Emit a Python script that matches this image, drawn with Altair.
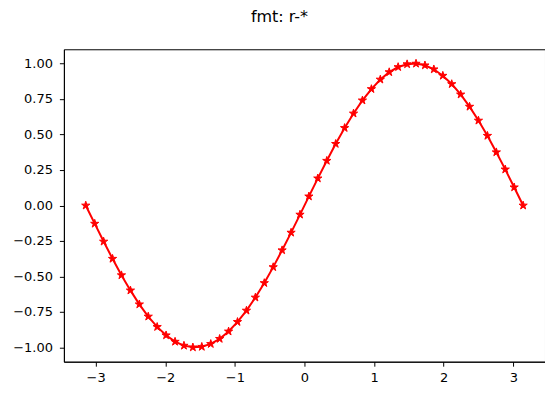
import altair as alt
import pandas as pd

x_vals = [-3.142, -3.013, -2.885, -2.757, -2.629, -2.500, -2.372, -2.244, -2.116, -1.988,
          -1.859, -1.731, -1.603, -1.475, -1.346, -1.218, -1.090, -0.962, -0.833, -0.705,
          -0.577, -0.449, -0.321, -0.192, -0.064, 0.064, 0.192, 0.321, 0.449, 0.577,
          0.705, 0.833, 0.962, 1.090, 1.218, 1.346, 1.475, 1.603, 1.731, 1.859,
          1.988, 2.116, 2.244, 2.372, 2.500, 2.629, 2.757, 2.885, 3.013, 3.142]
y_vals = [0.000, -0.128, -0.254, -0.375, -0.491, -0.598, -0.696, -0.782, -0.855, -0.914,
          -0.959, -0.987, -0.999, -0.995, -0.975, -0.939, -0.887, -0.820, -0.740, -0.648,
          -0.546, -0.434, -0.315, -0.191, -0.064, 0.064, 0.191, 0.315, 0.434, 0.546,
          0.648, 0.740, 0.820, 0.887, 0.939, 0.975, 0.995, 0.999, 0.987, 0.959,
          0.914, 0.855, 0.782, 0.696, 0.598, 0.491, 0.375, 0.254, 0.128, 0.000]
x_ticks = [-3, -2, -1, 0, 1, 2, 3]
y_ticks = [-1.0, -0.75, -0.5, -0.25, 0.0, 0.25, 0.5, 0.75, 1.0]
title_text = ["fmt: r-*"]

df = pd.DataFrame({"x": x_vals, "y": y_vals})
tdf = pd.DataFrame({"t": title_text})

FONT = "DejaVu Sans"
STAR = ("M0,-1L0.225,-0.309L0.951,-0.309L0.363,0.118L0.588,0.809L0,0.382"
        "L-0.588,0.809L-0.363,0.118L-0.951,-0.309L-0.225,-0.309Z")

axis_common = dict(grid=False, domainColor="black", domainWidth=1, tickColor="black",
                   tickWidth=1, tickSize=4.5, labelFont=FONT,
                   labelFontSize=13, labelColor="black", title=None)

x_enc = alt.X("x:Q", scale=alt.Scale(domain=[-3.456, 3.456], nice=False, zero=False),
              axis=alt.Axis(values=x_ticks, format="d", labelPadding=5, **axis_common))
y_enc = alt.Y("y:Q", scale=alt.Scale(domain=[-1.1, 1.1], nice=False, zero=False),
              axis=alt.Axis(values=y_ticks, format=".2f", labelPadding=7, **axis_common))

base = alt.Chart(df).encode(x=x_enc, y=y_enc)
line = base.mark_line(color="#ff0000", strokeWidth=2)
pts = base.mark_point(shape=STAR, filled=True, color="#ff0000", size=75,
                      stroke="#ff0000", strokeWidth=1, opacity=1)

title = alt.Chart(tdf).mark_text(font=FONT, fontSize=16, color="black",
                                 align="center", baseline="alphabetic").encode(
    text="t:N", x=alt.value(216), y=alt.value(-27.5))

chart = (line + pts + title).properties(
    width=482, height=313,
    autosize=alt.AutoSizeParams(type="none"),
    padding={"left": 56, "top": 41, "right": 0, "bottom": 22},
).configure_view(stroke="black", strokeWidth=1)

chart.save("out.html", embed_options={"renderer": "svg", "actions": False})
